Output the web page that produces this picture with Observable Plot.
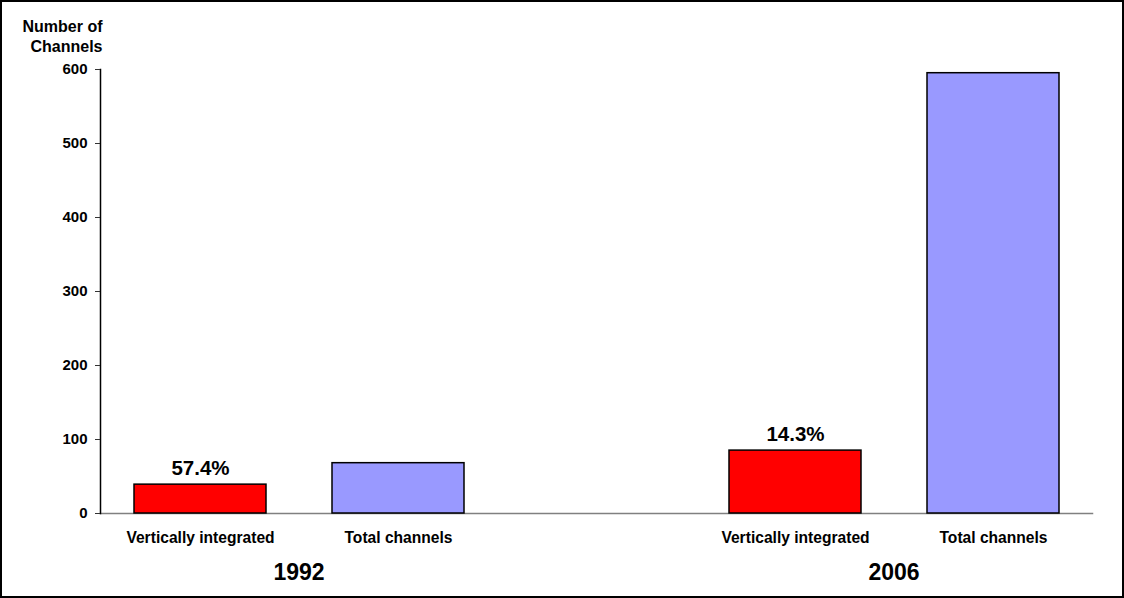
<!DOCTYPE html>
<html>
<head>
<meta charset="utf-8">
<script src="https://cdn.jsdelivr.net/npm/d3@7"></script>
<script src="https://cdn.jsdelivr.net/npm/@observablehq/plot@0.6"></script>
<style>
  html, body { margin: 0; padding: 0; background: white; }
  #wrap { position: relative; width: 1124px; height: 598px; overflow: hidden; }
  #wrap svg { display: block; }
  #border { position: absolute; left: 0; top: 0; right: 0; bottom: 0; border: 2px solid black; pointer-events: none; }
</style>
</head>
<body>
<div id="wrap"><div id="border"></div></div>
<script>
// ---- data ----
const years = ["1992", "2006"];
const categories = ["Vertically integrated", "Total channels"];
const verticallyIntegrated = [39, 85];
const totalChannels = [68, 595];
const shareLabels = ["57.4%", "14.3%"];
const yTicks = [0, 100, 200, 300, 400, 500, 600];
const barColors = ["#FF0000", "#9999FF"];
const yTitle = "Number of\nChannels";

// ---- table built from the arrays ----
const rows = [];
years.forEach((year, i) => {
  rows.push({year, category: categories[0], value: verticallyIntegrated[i]});
  rows.push({year, category: categories[1], value: totalChannels[i]});
});
const shareRows = years.map((year, i) => ({
  year, category: categories[0], value: verticallyIntegrated[i], share: shareLabels[i]
}));

const chart = Plot.plot({
  width: 1124,
  height: 598,
  marginLeft: 100,
  marginRight: 32,
  marginTop: 69,
  marginBottom: 85,
  style: {
    fontFamily: "'Liberation Sans', Arial, Helvetica, sans-serif",
    fontWeight: "bold",
    color: "black",
    background: "white",
    overflow: "visible"
  },
  fx: {domain: years, paddingInner: 1 / 3, paddingOuter: 0, label: null},
  x: {domain: categories, paddingInner: 0.335, paddingOuter: 0.1675, label: null},
  y: {domain: [0, 600], label: null},
  color: {domain: categories, range: barColors},
  marks: [
    Plot.frame({anchor: "bottom", facet: "super", stroke: "#808080", strokeWidth: 1.5}),
    Plot.frame({anchor: "left", facet: "super", stroke: "black", strokeWidth: 1.5}),
    Plot.barY(rows, {fx: "year", x: "category", y: "value", fill: "category", stroke: "black", strokeWidth: 1.5}),
    Plot.axisY({ticks: yTicks, tickSize: 5, tickPadding: 8, fontSize: 15, label: null, stroke: "#333"}),
    Plot.axisX({tickSize: 0, tickPadding: 18, fontSize: 15.6, label: null}),
    Plot.axisFx({anchor: "bottom", tickSize: 0, tickPadding: 50, fontSize: 23, label: null}),
    Plot.text(shareRows, {fx: "year", x: "category", y: "value", text: "share", dy: -10, lineAnchor: "bottom", fontSize: 20.5, fill: "black"}),
    Plot.text([yTitle], {facet: "super", frameAnchor: "top-left", textAnchor: "end", lineAnchor: "bottom", dx: 2, dy: -18, fontSize: 16, lineHeight: 1.25, fill: "black"})
  ]
});
document.getElementById("wrap").prepend(chart);
</script>
</body>
</html>
